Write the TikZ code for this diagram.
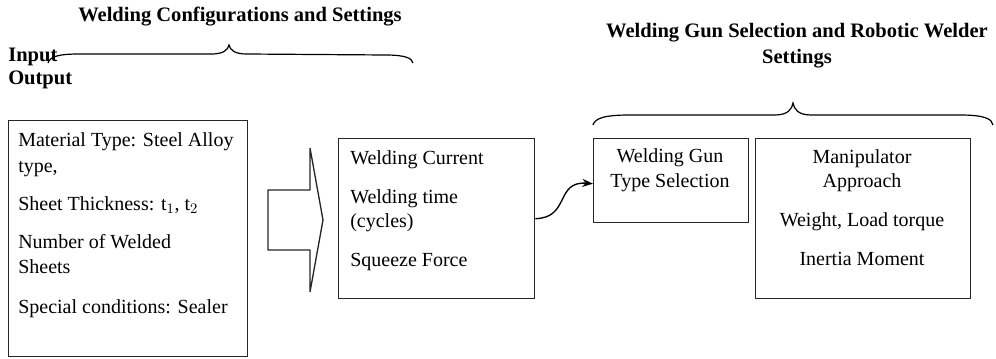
\documentclass[tikz,border=0pt]{standalone}
\usepackage{fontspec}
\setmainfont{Liberation Serif}
\usetikzlibrary{arrows.meta}
\begin{document}
\begin{tikzpicture}[x=0.75pt,y=-0.75pt,
  box/.style={draw=black!85,line width=1pt,anchor=north west,inner sep=0pt},
  txt/.style={font=\fontsize{15pt}{18pt}\selectfont,inner sep=0pt,anchor=base west},
  ctxt/.style={font=\fontsize{15pt}{18pt}\selectfont,inner sep=0pt,anchor=base},
  ttl/.style={font=\fontsize{15.4pt}{18pt}\selectfont\bfseries,inner sep=0pt,anchor=base},
  lbl/.style={font=\fontsize{15.4pt}{18pt}\selectfont\bfseries,inner sep=0pt,anchor=base west},
  brace/.style={draw=black,line width=0.9pt},
  conn/.style={draw=black,line width=1pt,-{Stealth[length=8pt,width=6pt]}}]
\useasboundingbox (0,0) rectangle (996,359);

% titles
\node[ttl] (t1) at (240,22) {Welding Configurations and Settings};
\node[ttl] (t2a) at (797,38) {Welding Gun Selection and Robotic Welder};
\node[ttl] (t2b) at (797,64) {Settings};
\node[lbl] (in) at (8,62) {Input};
\node[lbl] (out) at (8,85) {Output};

% braces
\draw[brace] (48,63) .. controls (50,56) and (60,54) .. (80,54) -- (212,54)
  .. controls (223,54) and (228,50) .. (229,45)
  .. controls (230,50) and (235,54) .. (246,54) -- (385,55)
  .. controls (405,55) and (412,58) .. (413,63);
\draw[brace] (593,125) .. controls (595,118) and (605,115) .. (630,115) -- (775,115)
  .. controls (788,115) and (792,109) .. (793,103)
  .. controls (794,109) and (798,115) .. (811,115) -- (960,115)
  .. controls (985,115) and (992,119) .. (993,125);

% boxes
\node[box,minimum width=179.25pt,minimum height=177pt] (b1) at (8,120) {};
\node[box,minimum width=147pt,minimum height=120pt] (b2) at (338,138) {};
\node[box,minimum width=116.25pt,minimum height=63pt] (b3) at (593,138) {};
\node[box,minimum width=161.25pt,minimum height=120pt] (b4) at (755,138) {};

% box 1 text
\node[txt] (m1) at (18,147) {Material Type: Steel Alloy};
\node[txt] (m2) at (18,172.5) {type,};
\node[txt] (m3) at (18,210.5) {Sheet Thickness: t$_1$, t$_2$};
\node[txt] (m4) at (18,248.5) {Number of Welded};
\node[txt] (m5) at (18,274) {Sheets};
\node[txt] (m6) at (18,314) {Special conditions: Sealer};

% box 2 text
\node[txt] (w1) at (350,165) {Welding Current};
\node[txt] (w2) at (350,203.5) {Welding time};
\node[txt] (w3) at (350,228) {(cycles)};
\node[txt] (w4) at (350,267) {Squeeze Force};

% box 3 text
\node[ctxt] (g1) at (670,163) {Welding Gun};
\node[ctxt] (g2) at (670,188) {Type Selection};

% box 4 text
\node[ctxt] (r1) at (862,164) {Manipulator};
\node[ctxt] (r2) at (862,188) {Approach};
\node[ctxt] (r3) at (862,227) {Weight, Load torque};
\node[ctxt] (r4) at (862,266) {Inertia Moment};

% block arrow
\draw[line width=1pt,draw=black!85] (268,190) -- (310,190) -- (310,148) -- (323,220)
  -- (310,292) -- (310,250) -- (268,250) -- cycle;

% connector
\draw[conn] (b2.east) .. controls (570,218) and (555,181) .. ([yshift=-2.25pt]b3.west);
\end{tikzpicture}
\end{document}
